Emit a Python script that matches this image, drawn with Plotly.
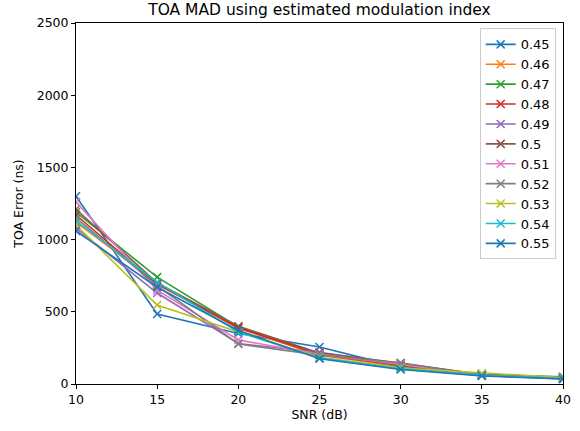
import plotly.graph_objects as go

snr = [10, 15, 20, 25, 30, 35, 40]
labels = ["0.45", "0.46", "0.47", "0.48", "0.49", "0.5", "0.51", "0.52", "0.53", "0.54", "0.55"]
colors = ["#1f77b4", "#ff7f0e", "#2ca02c", "#d62728", "#9467bd", "#8c564b",
          "#e377c2", "#7f7f7f", "#bcbd22", "#17becf", "#1f77b4"]

s045 = [1300, 485, 350, 256, 115, 60, 35]
s046 = [1120, 700, 385, 200, 120, 65, 45]
s047 = [1190, 740, 395, 210, 125, 65, 45]
s048 = [1170, 690, 390, 205, 130, 65, 45]
s049 = [1080, 630, 280, 220, 140, 65, 40]
s050 = [1210, 700, 400, 215, 145, 65, 50]
s051 = [1260, 650, 305, 205, 135, 60, 40]
s052 = [1150, 680, 277, 200, 145, 60, 40]
s053 = [1100, 547, 360, 185, 110, 75, 45]
s054 = [1130, 705, 360, 180, 105, 60, 40]
s055 = [1060, 670, 370, 175, 100, 55, 35]
series = [s045, s046, s047, s048, s049, s050, s051, s052, s053, s054, s055]

fig = go.Figure()
for lab, col, vals in zip(labels, colors, series):
    fig.add_trace(go.Scatter(
        x=snr, y=vals, name=lab, mode="lines+markers",
        line=dict(color=col, width=1.6),
        marker=dict(symbol="x-thin-open", size=8, color=col, line=dict(color=col, width=1.5)),
    ))

axis_common = dict(
    showline=True, linecolor="black", linewidth=1, mirror=True,
    ticks="outside", ticklen=4, tickcolor="black", showgrid=False, zeroline=False,
    automargin=False,
    tickfont=dict(family="DejaVu Sans", size=12.5, color="black"),
)
fig.update_layout(
    width=580, height=431,
    margin=dict(l=76, r=17, t=23, b=47),
    paper_bgcolor="white", plot_bgcolor="white",
    title=dict(text="TOA MAD using estimated modulation index", x=(76 + 563) / 2 / 580, xanchor="center",
               y=1 - 10 / 431, yanchor="middle",
               font=dict(family="DejaVu Sans", size=15.5, color="black")),
    xaxis=dict(range=[10, 40], tickvals=[10, 15, 20, 25, 30, 35, 40],
               title=dict(text="SNR (dB)", font=dict(family="DejaVu Sans", size=12.5, color="black"), standoff=4),
               **axis_common),
    yaxis=dict(range=[0, 2500], tickvals=[0, 500, 1000, 1500, 2000, 2500],
               title=dict(text="TOA Error (ns)", font=dict(family="DejaVu Sans", size=12.5, color="black"), standoff=10),
               **axis_common),
    legend=dict(x=0.985, y=0.985, xanchor="right", yanchor="top",
                bgcolor="white", bordercolor="#cccccc", borderwidth=1,
                font=dict(family="DejaVu Sans", size=13, color="black"),
                tracegroupgap=0, itemwidth=30),
    showlegend=True,
)

fig.write_html("out.html", config={"displayModeBar": False},
               post_script="document.body.style.margin='0';")
